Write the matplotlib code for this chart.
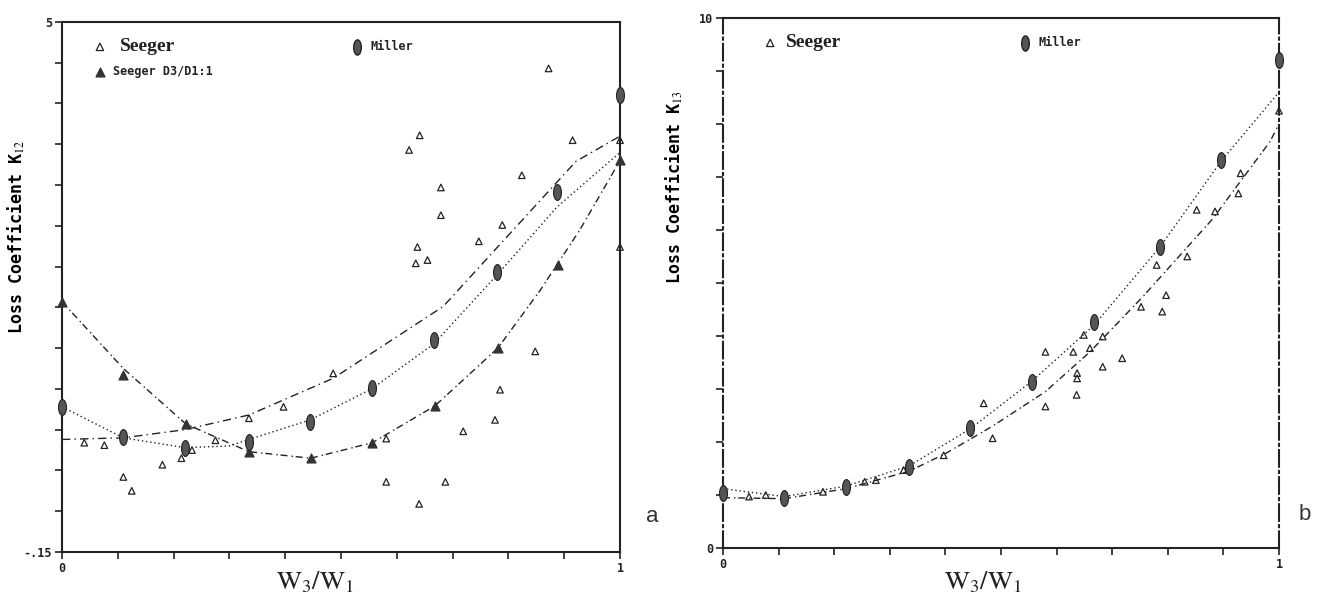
import matplotlib
matplotlib.use("Agg")
import matplotlib.pyplot as plt
from matplotlib.path import Path
from matplotlib.transforms import Affine2D

plt.rcParams["mathtext.fontset"] = "stix"

# ---- panel a: K12 ----
miller_a_x = [0.0, 0.11, 0.22, 0.335, 0.445, 0.555, 0.666, 0.779, 0.887, 1.0]
miller_a_y = [0.028, -0.009, -0.022, -0.015, 0.009, 0.051, 0.110, 0.193, 0.292, 0.410]

d3_a_x = [0.0, 0.11, 0.222, 0.335, 0.446, 0.556, 0.668, 0.781, 0.889, 1.0]
d3_a_y = [0.157, 0.067, 0.007, -0.027, -0.035, -0.016, 0.029, 0.100, 0.202, 0.331]

seeger_a_x = [0.872, 0.622, 0.641, 0.915, 1.0, 0.679, 0.824, 0.679, 0.789, 0.747,
              0.637, 0.634, 0.655, 1.0, 0.486, 0.397, 0.335, 0.275, 0.233, 0.214,
              0.18, 0.076, 0.04, 0.11, 0.125, 0.581, 0.719, 0.776, 0.785, 0.848,
              0.581, 0.687, 0.64]
seeger_a_y = [0.443, 0.343, 0.361, 0.355, 0.355, 0.297, 0.312, 0.263, 0.251, 0.231,
              0.224, 0.204, 0.208, 0.224, 0.069, 0.028, 0.014, -0.013, -0.025, -0.035,
              -0.043, -0.019, -0.016, -0.058, -0.075, -0.011, -0.002, 0.012, 0.049, 0.096,
              -0.064, -0.064, -0.091]

fit_seeger_a_x = [0.0, 0.11, 0.22, 0.335, 0.486, 0.683, 0.921, 1.0]
fit_seeger_a_y = [-0.012, -0.010, 0.000, 0.018, 0.063, 0.151, 0.329, 0.36]

fit_miller_a_x = [0.0, 0.11, 0.22, 0.3, 0.335, 0.445, 0.555, 0.666, 0.78, 0.887, 1.0]
fit_miller_a_y = [0.028, -0.010, -0.022, -0.020, -0.012, 0.012, 0.050, 0.105, 0.190, 0.273, 0.34]

fit_d3_a_x = [0.0, 0.11, 0.222, 0.335, 0.446, 0.556, 0.668, 0.781, 0.857, 0.928, 1.0]
fit_d3_a_y = [0.157, 0.075, 0.007, -0.027, -0.035, -0.016, 0.029, 0.100, 0.171, 0.245, 0.33]

# ---- panel b: K13 ----
miller_b_x = [0.0, 0.11, 0.222, 0.335, 0.445, 0.556, 0.667, 0.786, 0.896, 1.0]
miller_b_y = [1.03, 0.94, 1.16, 1.53, 2.26, 3.14, 4.27, 5.68, 7.32, 9.2]

seeger_b_x = [1.0, 0.931, 0.927, 0.885, 0.852, 0.835, 0.78, 0.797, 0.752, 0.79,
              0.649, 0.683, 0.66, 0.63, 0.58, 0.718, 0.683, 0.637, 0.637, 0.636,
              0.58, 0.469, 0.485, 0.397, 0.325, 0.275, 0.255, 0.18, 0.077, 0.047]
seeger_b_y = [8.25, 7.07, 6.69, 6.35, 6.38, 5.50, 5.34, 4.77, 4.55, 4.46,
              4.02, 3.99, 3.77, 3.70, 3.70, 3.58, 3.42, 3.30, 3.20, 2.89,
              2.67, 2.73, 2.07, 1.75, 1.47, 1.28, 1.25, 1.06, 1.0, 0.97]

fit_upper_b_x = [0.0, 0.11, 0.222, 0.335, 0.445, 0.556, 0.667, 0.786, 0.896, 1.0]
fit_upper_b_y = [1.12, 0.97, 1.17, 1.55, 2.25, 3.15, 4.20, 5.68, 7.30, 8.6]

fit_lower_b_x = [0.0, 0.11, 0.222, 0.335, 0.4, 0.485, 0.58, 0.66, 0.755, 0.88, 0.984, 1.0]
fit_lower_b_y = [0.95, 0.93, 1.12, 1.45, 1.78, 2.30, 2.95, 3.70, 4.74, 6.20, 7.67, 8.0]

INK = "#222222"
ellipse = Path.unit_circle().transformed(Affine2D().scale(0.5, 1.0))
mono = {"family": "DejaVu Sans Mono", "weight": "bold"}


def style_axes(ax, dashed_sides=False):
    for s in ax.spines.values():
        s.set_linewidth(1.5)
        s.set_color(INK)
    if dashed_sides:
        ax.spines["left"].set_linestyle((0, (8, 2, 1, 2)))
        ax.spines["right"].set_linestyle((0, (8, 2, 1, 2)))
    ax.tick_params(direction="out", length=5, width=1.2, colors=INK,
                   labelsize=8.5, pad=2)
    for lab in ax.get_xticklabels() + ax.get_yticklabels():
        lab.set_fontfamily("DejaVu Sans Mono")
        lab.set_fontweight("bold")


fig = plt.figure(figsize=(13.24, 6.03), dpi=100)

# panel a
ax1 = fig.add_axes([0.0468, 0.0846, 0.4215, 0.879])
ax1.plot(fit_seeger_a_x, fit_seeger_a_y, color=INK, lw=1.0, ls=(0, (6, 3, 1, 3)))
ax1.plot(fit_miller_a_x, fit_miller_a_y, color=INK, lw=1.0, ls=(0, (1, 2)))
ax1.plot(fit_d3_a_x, fit_d3_a_y, color=INK, lw=1.0, ls=(0, (5, 3, 1, 2)))
ax1.scatter(seeger_a_x, seeger_a_y, marker="^", s=22, facecolors="none",
            edgecolors=INK, linewidths=0.9, zorder=3, clip_on=False)
ax1.scatter(d3_a_x, d3_a_y, marker="^", s=40, color="#333333", zorder=4, clip_on=False)
ax1.scatter(miller_a_x, miller_a_y, marker=ellipse, s=130, facecolor="#555555",
            edgecolor=INK, linewidths=0.8, zorder=5, clip_on=False)
ax1.set_xlim(0, 1)
ax1.set_ylim(-0.15, 0.5)
ax1.set_xticks([i / 10 for i in range(11)])
ax1.set_xticklabels(["0"] + [""] * 9 + ["1"])
ax1.set_yticks([-0.15 + 0.05 * i for i in range(14)])
ax1.set_yticklabels(["-.15"] + [""] * 12 + ["5"])
style_axes(ax1)
ax1.set_ylabel("Loss Coefficient K$_{12}$", fontsize=12, **mono)
ax1.yaxis.set_label_coords(-0.062, 0.595)

ax1.scatter([0.068], [0.953], marker="^", s=28, facecolors="none", edgecolors=INK,
            linewidths=0.9, transform=ax1.transAxes, clip_on=False)
ax1.text(0.104, 0.953, "Seeger", transform=ax1.transAxes, va="center", ha="left",
         fontsize=14, fontweight="bold", family="Liberation Serif", color=INK)
ax1.scatter([0.528], [0.953], marker=ellipse, s=120, facecolor="#555555",
            edgecolor=INK, transform=ax1.transAxes, clip_on=False)
ax1.text(0.552, 0.953, "Miller", transform=ax1.transAxes, va="center", ha="left",
         fontsize=8.5, color=INK, **mono)
ax1.scatter([0.068], [0.906], marker="^", s=40, color="#333333",
            transform=ax1.transAxes, clip_on=False)
ax1.text(0.092, 0.906, "Seeger D3/D1:1", transform=ax1.transAxes, va="center",
         ha="left", fontsize=8.5, color=INK, **mono)

# panel b
ax2 = fig.add_axes([0.546, 0.0912, 0.42, 0.879])
ax2.plot(fit_upper_b_x, fit_upper_b_y, color=INK, lw=1.0, ls=(0, (1, 2)))
ax2.plot(fit_lower_b_x, fit_lower_b_y, color=INK, lw=1.0, ls=(0, (5, 3, 1, 2)))
ax2.scatter(seeger_b_x, seeger_b_y, marker="^", s=22, facecolors="none",
            edgecolors=INK, linewidths=0.9, zorder=3, clip_on=False)
ax2.scatter(miller_b_x, miller_b_y, marker=ellipse, s=130, facecolor="#555555",
            edgecolor=INK, linewidths=0.8, zorder=5, clip_on=False)
ax2.set_xlim(0, 1)
ax2.set_ylim(0, 10)
ax2.set_xticks([i / 10 for i in range(11)])
ax2.set_xticklabels(["0"] + [""] * 9 + ["1"])
ax2.set_yticks(range(11))
ax2.set_yticklabels(["0"] + [""] * 9 + ["10"])
style_axes(ax2, dashed_sides=True)
ax2.set_ylabel("Loss Coefficient K$_{13}$", fontsize=12, **mono)
ax2.yaxis.set_label_coords(-0.068, 0.68)

ax2.scatter([0.085], [0.953], marker="^", s=28, facecolors="none", edgecolors=INK,
            linewidths=0.9, transform=ax2.transAxes, clip_on=False)
ax2.text(0.113, 0.953, "Seeger", transform=ax2.transAxes, va="center", ha="left",
         fontsize=14, fontweight="bold", family="Liberation Serif", color=INK)
ax2.scatter([0.543], [0.953], marker=ellipse, s=120, facecolor="#555555",
            edgecolor=INK, transform=ax2.transAxes, clip_on=False)
ax2.text(0.567, 0.953, "Miller", transform=ax2.transAxes, va="center", ha="left",
         fontsize=8.5, color=INK, **mono)

# x labels and panel letters
fig.text(315 / 1324, 1 - 582 / 603, r"$\mathrm{W_3/W_1}$", ha="center", va="center",
         fontsize=19, color=INK)
fig.text(983 / 1324, 1 - 582 / 603, r"$\mathrm{W_3/W_1}$", ha="center", va="center",
         fontsize=19, color=INK)
fig.text(652 / 1324, 1 - 517 / 603, "a", ha="center", va="center", fontsize=16,
         family="Liberation Sans", color="#333333")
fig.text(1305 / 1324, 1 - 515 / 603, "b", ha="center", va="center", fontsize=16,
         family="Liberation Sans", color="#333333")

fig.savefig("out.png", dpi=100)
